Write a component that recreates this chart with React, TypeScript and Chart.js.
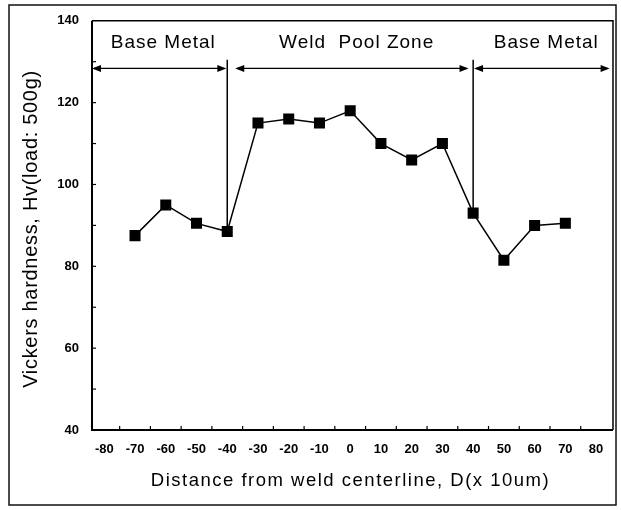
import React, { useEffect, useRef } from "react";
import { Chart, registerables } from "chart.js";

Chart.register(...registerables);

// ---- data ----
const distances = [-70, -60, -50, -40, -30, -20, -10, 0, 10, 20, 30, 40, 50, 60, 70];
const hardness = [87.5, 95, 90.5, 88.5, 115, 116, 115, 118, 110, 106, 110, 93, 81.5, 90, 90.5];

const xTickLabels = [-80, -70, -60, -50, -40, -30, -20, -10, 0, 10, 20, 30, 40, 50, 60, 70, 80];
const yTickLabels = [40, 60, 80, 100, 120, 140];
const xInnerTicks = [-75, -65, -55, -45, -35, -25, -15, -5, 5, 15, 25, 35, 45, 55, 65, 75];
const yInnerTicks = [50, 60, 70, 80, 90, 100, 110, 120, 130];

const zoneBoundaries = [-40, 40];
const zoneBoundaryTop = 130.5;
const zoneArrowLevel = 128.35;
const zoneArrowStarts = [-84, -37.4, 40.3];
const zoneArrowEnds = [-40.3, 38.5, 84.4];
const zoneLabels = ["Base Metal", "Weld  Pool Zone", "Base Metal"];
const zoneLabelX = [-60.8, 2.1, 63.8];
const zoneLabelLevel = 134.7;

const xTitle = "Distance from weld centerline, D(x 10um)";
const yTitle = "Vickers hardness, Hv(load: 500g)";

const FONT = "'Liberation Sans', Arial, Helvetica, sans-serif";

function arrowHead(ctx: CanvasRenderingContext2D, x: number, y: number, dir: number) {
  ctx.beginPath();
  ctx.moveTo(x, y);
  ctx.lineTo(x - dir * 9, y - 3.5);
  ctx.lineTo(x - dir * 9, y + 3.5);
  ctx.closePath();
  ctx.fill();
}

const decorPlugin = {
  id: "decor",
  beforeDraw(chart: any) {
    const ctx = chart.ctx as CanvasRenderingContext2D;
    ctx.save();
    ctx.fillStyle = "#ffffff";
    ctx.fillRect(0, 0, chart.width, chart.height);
    ctx.strokeStyle = "#111";
    ctx.lineWidth = 1.5;
    ctx.strokeRect(9, 5, 607, 500);
    ctx.restore();
  },
  beforeDatasetsDraw(chart: any) {
    const ctx = chart.ctx as CanvasRenderingContext2D;
    const xs = chart.scales.x;
    const ys = chart.scales.y;
    const { left, right, top, bottom } = chart.chartArea;
    ctx.save();
    ctx.strokeStyle = "#000";
    ctx.fillStyle = "#000";
    // plot box
    ctx.lineWidth = 1.5;
    ctx.beginPath();
    ctx.moveTo(left, top);
    ctx.lineTo(right, top);
    ctx.lineTo(right, bottom);
    ctx.stroke();
    ctx.lineWidth = 2;
    ctx.beginPath();
    ctx.moveTo(left, top);
    ctx.lineTo(left, bottom);
    ctx.lineTo(right, bottom);
    ctx.stroke();
    // inner ticks
    ctx.lineWidth = 1.2;
    xInnerTicks.forEach((v) => {
      const px = xs.getPixelForValue(v);
      ctx.beginPath();
      ctx.moveTo(px, bottom);
      ctx.lineTo(px, bottom - 4);
      ctx.stroke();
    });
    yInnerTicks.forEach((v) => {
      const py = ys.getPixelForValue(v);
      ctx.beginPath();
      ctx.moveTo(left, py);
      ctx.lineTo(left + 4, py);
      ctx.stroke();
    });
    // zone boundaries
    ctx.lineWidth = 1.5;
    zoneBoundaries.forEach((b) => {
      const i = distances.indexOf(b);
      const px = xs.getPixelForValue(b);
      ctx.beginPath();
      ctx.moveTo(px, ys.getPixelForValue(zoneBoundaryTop));
      ctx.lineTo(px, ys.getPixelForValue(hardness[i]));
      ctx.stroke();
    });
    // arrows
    const ay = ys.getPixelForValue(zoneArrowLevel);
    ctx.lineWidth = 1.3;
    zoneArrowStarts.forEach((s, i) => {
      const x1 = xs.getPixelForValue(s);
      const x2 = xs.getPixelForValue(zoneArrowEnds[i]);
      ctx.beginPath();
      ctx.moveTo(x1 + 2, ay);
      ctx.lineTo(x2 - 2, ay);
      ctx.stroke();
      arrowHead(ctx, x1, ay, -1);
      arrowHead(ctx, x2, ay, 1);
    });
    // zone labels
    ctx.font = `19px ${FONT}`;
    (ctx as any).letterSpacing = "1px";
    ctx.textAlign = "center";
    ctx.textBaseline = "middle";
    const ly = ys.getPixelForValue(zoneLabelLevel);
    zoneLabels.forEach((t, i) => {
      ctx.fillText(t, xs.getPixelForValue(zoneLabelX[i]), ly);
    });
    // axis titles
    ctx.font = `18.5px ${FONT}`;
    (ctx as any).letterSpacing = "1.5px";
    ctx.fillText(xTitle, (left + right) / 2 - 2, 481);
    ctx.translate(31, 229);
    ctx.rotate(-Math.PI / 2);
    ctx.font = `20px ${FONT}`;
    (ctx as any).letterSpacing = "0.7px";
    ctx.fillText(yTitle, 0, 0);
    ctx.restore();
  },
};

export default function App() {
  const ref = useRef<HTMLCanvasElement | null>(null);
  useEffect(() => {
    if (!ref.current) return;
    const chart = new Chart(ref.current, {
      type: "line",
      data: {
        datasets: [
          {
            data: distances.map((d, i) => ({ x: d, y: hardness[i] })),
            borderColor: "#000",
            borderWidth: 1.5,
            backgroundColor: "#000",
            pointStyle: "rect",
            pointRadius: 7.8,
            pointBackgroundColor: "#000",
            pointBorderColor: "#000",
            pointBorderWidth: 0,
            tension: 0,
          },
        ],
      },
      options: {
        animation: false,
        responsive: false,
        devicePixelRatio: 1,
        events: [],
        layout: { padding: { left: 0, top: 18, right: 8, bottom: 0 } },
        plugins: { legend: { display: false }, tooltip: { enabled: false } },
        scales: {
          x: {
            type: "linear",
            min: -84,
            max: 85.5,
            grid: { display: false, drawTicks: false },
            border: { display: false },
            afterBuildTicks: (s: any) => {
              s.ticks = xTickLabels.map((v) => ({ value: v }));
            },
            afterFit: (s: any) => {
              s.height = 80;
            },
            ticks: {
              color: "#000",
              padding: 12,
              maxRotation: 0,
              autoSkip: false,
              font: { family: FONT, size: 13, weight: "bold" },
              callback: (v: any) => String(v),
            },
          },
          y: {
            type: "linear",
            min: 40,
            max: 140,
            grid: { display: false, drawTicks: false },
            border: { display: false },
            afterBuildTicks: (s: any) => {
              s.ticks = yTickLabels.map((v) => ({ value: v }));
            },
            afterFit: (s: any) => {
              s.width = 92;
            },
            ticks: {
              color: "#000",
              padding: 13,
              autoSkip: false,
              font: { family: FONT, size: 13, weight: "bold" },
              callback: (v: any) => String(v),
            },
          },
        },
      },
      plugins: [decorPlugin],
    });
    return () => chart.destroy();
  }, []);
  return (
    <div style={{ position: "absolute", left: 0, top: 0, width: 621, height: 510 }}>
      <canvas ref={ref} width={621} height={510} style={{ width: 621, height: 510, display: "block" }} />
    </div>
  );
}
